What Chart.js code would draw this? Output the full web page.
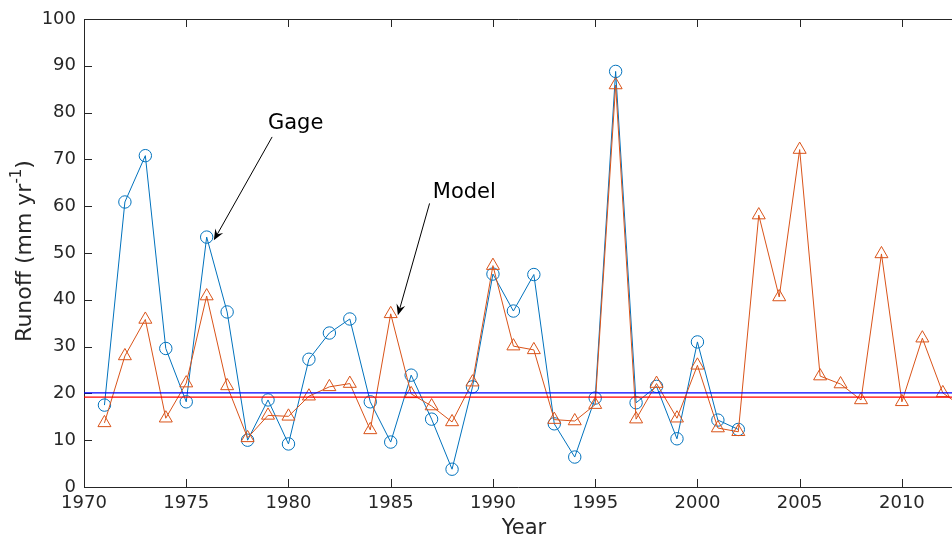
<!DOCTYPE html>
<html>
<head>
	<title>Runoff</title>
	<script src="https://cdn.jsdelivr.net/npm/chart.js"></script>
	<style>
		html, body { margin: 0; padding: 0; background: #fff; }
		.chart-container { width: 952px; height: 539px; }
	</style>
</head>
<body>
	<div class="chart-container">
		<canvas id="myChart"></canvas>
	</div>
	<script>
		// years and runoff values
		const gageYears = [1971,1972,1973,1974,1975,1976,1977,1978,1979,1980,1981,1982,1983,1984,1985,1986,
			1987,1988,1989,1990,1991,1992,1993,1994,1995,1996,1997,1998,1999,2000,2001,2002];
		const gageRunoff = [17.5,60.9,70.8,29.6,18.2,53.4,37.4,10.0,18.6,9.2,27.3,32.9,35.9,18.2,9.6,23.9,
			14.5,3.8,21.4,45.5,37.6,45.4,13.5,6.4,19.0,88.8,18.0,21.5,10.3,31.0,14.3,12.3];
		const modelYears = [1971,1972,1973,1974,1975,1976,1977,1978,1979,1980,1981,1982,1983,1984,1985,1986,
			1987,1988,1989,1990,1991,1992,1993,1994,1995,1996,1997,1998,1999,2000,2001,2002,
			2003,2004,2005,2006,2007,2008,2009,2010,2011,2012,2013];
		const modelRunoff = [13.7,28.0,35.8,14.7,22.2,40.8,21.6,10.5,15.3,15.1,19.4,21.4,22.1,12.2,37.0,19.9,
			17.3,13.9,22.4,47.3,30.1,29.3,14.4,14.1,17.6,85.9,14.5,22.1,14.7,26.0,12.6,11.8,
			58.1,40.6,72.1,23.7,22.0,18.6,49.8,18.2,31.8,20.1,17.0];
		const gageMean = 20.1;
		const modelMean = 19.2;
		const xTicks = [1970,1975,1980,1985,1990,1995,2000,2005,2010];
		const yTicks = [0,10,20,30,40,50,60,70,80,90,100];
		const xRange = [1970, 2012.45];

		// text + arrow annotations, in data units
		const notes = [
			{ text: 'Gage', tx: 1980.35, ty: 77.6, x0: 1979.2, y0: 74.8, x1: 1976.35, y1: 52.7 },
			{ text: 'Model', tx: 1988.6, ty: 62.9, x0: 1986.9, y0: 60.6, x1: 1985.35, y1: 36.7 }
		];

		const axisColor = '#262626';
		const font = 'DejaVu Sans';

		const toPts = (xs, ys) => xs.map((x, i) => ({ x: x, y: ys[i] }));

		const axesPlugin = {
			id: 'axesBox',
			beforeDatasetsDraw(chart) {
				const ctx = chart.ctx;
				const a = chart.chartArea;
				const xs = chart.scales.x, ys = chart.scales.y;
				ctx.save();
				ctx.strokeStyle = axisColor;
				ctx.lineWidth = 1;
				ctx.beginPath();
				ctx.moveTo(a.left + 0.5, a.top + 0.5);
				ctx.lineTo(a.left + 0.5, a.bottom + 0.5);
				ctx.lineTo(a.right, a.bottom + 0.5);
				ctx.moveTo(a.left + 0.5, a.top + 0.5);
				ctx.lineTo(a.right, a.top + 0.5);
				xTicks.forEach(v => {
					const px = Math.round(xs.getPixelForValue(v)) + 0.5;
					ctx.moveTo(px, a.bottom);
					ctx.lineTo(px, a.bottom - 8);
					ctx.moveTo(px, a.top);
					ctx.lineTo(px, a.top + 8);
				});
				yTicks.forEach(v => {
					const py = Math.round(ys.getPixelForValue(v)) + 0.5;
					ctx.moveTo(a.left, py);
					ctx.lineTo(a.left + 8, py);
				});
				ctx.stroke();

				// axis titles
				ctx.fillStyle = axisColor;
				ctx.textBaseline = 'middle';
				ctx.textAlign = 'center';
				ctx.font = '21px ' + font;
				ctx.fillText('Year', (a.left + a.right) / 2 + 6, 529);

				ctx.translate(25, (a.top + a.bottom) / 2 - 2);
				ctx.rotate(-Math.PI / 2);
				ctx.textAlign = 'left';
				const main = 'Runoff (mm yr', sup = '-1', close = ')';
				ctx.font = '22px ' + font;
				const w1 = ctx.measureText(main).width, w3 = ctx.measureText(close).width;
				ctx.font = '15px ' + font;
				const w2 = ctx.measureText(sup).width;
				let x = -(w1 + w2 + w3) / 2;
				ctx.font = '22px ' + font;
				ctx.fillText(main, x, 0);
				ctx.font = '15px ' + font;
				ctx.fillText(sup, x + w1, -8);
				ctx.font = '22px ' + font;
				ctx.fillText(close, x + w1 + w2, 0);
				ctx.restore();
			},
			afterDatasetsDraw(chart) {
				const ctx = chart.ctx;
				const xs = chart.scales.x, ys = chart.scales.y;
				ctx.save();
				ctx.fillStyle = '#000';
				ctx.strokeStyle = '#000';
				ctx.lineWidth = 1;
				ctx.font = '21px ' + font;
				ctx.textAlign = 'center';
				ctx.textBaseline = 'middle';
				notes.forEach(n => {
					ctx.fillText(n.text, xs.getPixelForValue(n.tx), ys.getPixelForValue(n.ty));
					const x0 = xs.getPixelForValue(n.x0), y0 = ys.getPixelForValue(n.y0);
					const x1 = xs.getPixelForValue(n.x1), y1 = ys.getPixelForValue(n.y1);
					const ang = Math.atan2(y1 - y0, x1 - x0);
					const L = 11, W = 4.5;
					ctx.beginPath();
					ctx.moveTo(x0, y0);
					ctx.lineTo(x1 - Math.cos(ang) * 6, y1 - Math.sin(ang) * 6);
					ctx.stroke();
					const bx = x1 - Math.cos(ang) * L, by = y1 - Math.sin(ang) * L;
					const nx = x1 - Math.cos(ang) * (L - 4), ny = y1 - Math.sin(ang) * (L - 4);
					ctx.beginPath();
					ctx.moveTo(x1, y1);
					ctx.lineTo(bx - Math.sin(ang) * W, by + Math.cos(ang) * W);
					ctx.lineTo(nx, ny);
					ctx.lineTo(bx + Math.sin(ang) * W, by - Math.cos(ang) * W);
					ctx.closePath();
					ctx.fill();
				});
				ctx.restore();
			}
		};

		const ctx = document.getElementById('myChart').getContext('2d');
		const myChart = new Chart(ctx, {
			type: 'scatter',
			data: {
				datasets: [
					{
						label: 'Gage',
						data: toPts(gageYears, gageRunoff),
						showLine: true,
						borderColor: '#0072BD',
						borderWidth: 1,
						pointStyle: 'circle',
						pointRadius: 6.2,
						pointBorderWidth: 1,
						pointBackgroundColor: 'rgba(0,0,0,0)',
						pointBorderColor: '#0072BD',
						order: 3
					},
					{
						label: 'Model',
						data: toPts(modelYears, modelRunoff),
						showLine: true,
						borderColor: '#D95319',
						borderWidth: 1,
						pointStyle: 'triangle',
						pointRadius: 7.5,
						pointBorderWidth: 1,
						pointBackgroundColor: 'rgba(0,0,0,0)',
						pointBorderColor: '#D95319',
						order: 2
					},
					{
						label: 'Gage mean',
						data: toPts([1970, 2014], [gageMean, gageMean]),
						showLine: true,
						borderColor: '#0000FF',
						borderWidth: 1.2,
						pointRadius: 0,
						order: 1
					},
					{
						label: 'Model mean',
						data: toPts([1970, 2014], [modelMean, modelMean]),
						showLine: true,
						borderColor: '#FF0000',
						borderWidth: 1.2,
						pointRadius: 0,
						order: 0
					}
				]
			},
			options: {
				responsive: false,
				animation: false,
				maintainAspectRatio: false,
				layout: { autoPadding: false, padding: { top: 19, right: 0, left: 0, bottom: 0 } },
				plugins: {
					legend: { display: false },
					tooltip: { enabled: false }
				},
				scales: {
					x: {
						type: 'linear',
						min: xRange[0],
						max: xRange[1],
						afterBuildTicks: s => { s.ticks = xTicks.map(v => ({ value: v })); },
						afterFit: s => { s.height = 52; s.paddingLeft = 0; s.paddingRight = 0; },
						grid: { display: false, drawTicks: false },
						border: { display: false },
						ticks: {
							color: axisColor,
							font: { family: font, size: 18 },
							padding: 6,
							maxRotation: 0,
							autoSkip: false,
							callback: v => String(v)
						}
					},
					y: {
						min: 0,
						max: 100,
						afterBuildTicks: s => { s.ticks = yTicks.map(v => ({ value: v })); },
						afterFit: s => { s.width = 84; s.paddingTop = 0; s.paddingBottom = 0; },
						grid: { display: false, drawTicks: false },
						border: { display: false },
						ticks: {
							color: axisColor,
							font: { family: font, size: 18 },
							padding: 8
						}
					}
				}
			},
			plugins: [axesPlugin]
		});
		myChart.resize(952, 539);
	</script>
</body>
</html>
